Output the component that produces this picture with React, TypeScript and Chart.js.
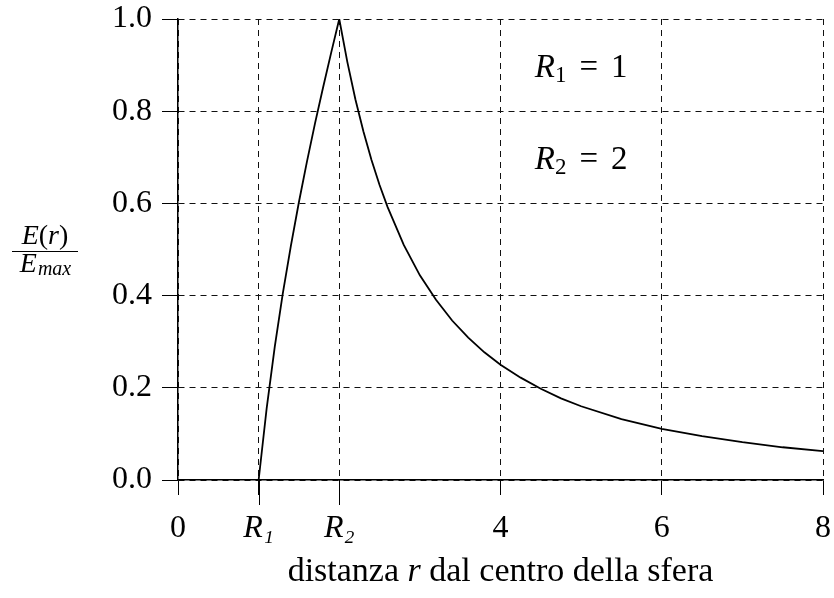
import React, { useEffect, useRef } from "react";
import { Chart, registerables } from "chart.js";

Chart.register(...registerables);

// distance r (x values) and normalized field E(r)/Emax (y values)
const rValues = [
  0, 1, 1.1, 1.2, 1.3, 1.4, 1.5, 1.6, 1.7, 1.8, 1.9, 2,
  2.1, 2.2, 2.3, 2.4, 2.5, 2.6, 2.8, 3, 3.2, 3.4, 3.6, 3.8, 4,
  4.25, 4.5, 4.75, 5, 5.5, 6, 6.5, 7, 7.5, 8,
];
const eValues = [
  0, 0, 0.156, 0.289, 0.405, 0.508, 0.603, 0.691, 0.774, 0.852, 0.927, 1.0,
  0.907, 0.826, 0.756, 0.694, 0.64, 0.592, 0.51, 0.444, 0.391, 0.346, 0.309, 0.277, 0.25,
  0.222, 0.198, 0.177, 0.16, 0.132, 0.111, 0.095, 0.082, 0.071, 0.0625,
];

const xTickValues = [0, 1, 2, 4, 6, 8];
const xTickLabels = ["0", "R₁", "R₂", "4", "6", "8"];
const longTickValues = [1, 2];
const yTickValues = [0, 0.2, 0.4, 0.6, 0.8, 1.0];

const xTitleParts = ["distanza ", "r", " dal centro della sfera"];
const yTitleNum = ["E", "(", "r", ")"];
const yTitleDen = ["E", "max"];

const noteX = [5, 5];
const noteY = [0.9, 0.7];
const noteSub = ["1", "2"];
const noteValue = ["1", "2"];

const FAMILY = "'Liberation Serif', 'DejaVu Serif', serif";

const textPlugin = {
  id: "texts",
  afterDraw(chart: any) {
    const ctx = chart.ctx as CanvasRenderingContext2D;
    const xs = chart.scales.x;
    const ys = chart.scales.y;
    ctx.save();
    ctx.fillStyle = "#000";
    ctx.textBaseline = "alphabetic";

    // longer tick marks at R1, R2
    ctx.strokeStyle = "#000";
    ctx.lineWidth = 1;
    longTickValues.forEach((v) => {
      const px = Math.round(xs.getPixelForValue(v)) + 0.5;
      ctx.beginPath();
      ctx.moveTo(px, xs.top);
      ctx.lineTo(px, xs.top + 25);
      ctx.stroke();
    });

    // annotations R_i = v
    for (let i = 0; i < noteX.length; i++) {
      const cx = xs.getPixelForValue(noteX[i]);
      const cy = ys.getPixelForValue(noteY[i]);
      const big = `italic 33px ${FAMILY}`;
      const small = `23px ${FAMILY}`;
      const norm = `33px ${FAMILY}`;
      ctx.font = big;
      const wR = ctx.measureText("R").width;
      ctx.font = small;
      const wS = ctx.measureText(noteSub[i]).width;
      ctx.font = norm;
      const wEq = ctx.measureText("=").width;
      const wV = ctx.measureText(noteValue[i]).width;
      const gap = 13;
      const total = wR + wS + gap + wEq + gap + wV;
      let x = cx - total / 2;
      const base = cy + 12;
      ctx.textAlign = "left";
      ctx.font = big;
      ctx.fillText("R", x, base);
      x += wR;
      ctx.font = small;
      ctx.fillText(noteSub[i], x, base + 5);
      x += wS + gap;
      ctx.font = norm;
      ctx.fillText("=", x, base);
      x += wEq + gap;
      ctx.fillText(noteValue[i], x, base);
    }

    // x title
    {
      const fonts = [`34px ${FAMILY}`, `italic 34px ${FAMILY}`, `34px ${FAMILY}`];
      const widths = xTitleParts.map((p, i) => {
        ctx.font = fonts[i];
        return ctx.measureText(p).width;
      });
      const total = widths.reduce((a, b) => a + b, 0);
      let x = (xs.left + xs.right) / 2 - total / 2;
      ctx.textAlign = "left";
      xTitleParts.forEach((p, i) => {
        ctx.font = fonts[i];
        ctx.fillText(p, x, 581);
        x += widths[i];
      });
    }

    // y title as a fraction
    {
      const cx = 45;
      const numFonts = [`italic 28px ${FAMILY}`, `28px ${FAMILY}`, `italic 28px ${FAMILY}`, `28px ${FAMILY}`];
      const nw = yTitleNum.map((p, i) => {
        ctx.font = numFonts[i];
        return ctx.measureText(p).width;
      });
      let x = cx - nw.reduce((a, b) => a + b, 0) / 2;
      yTitleNum.forEach((p, i) => {
        ctx.font = numFonts[i];
        ctx.fillText(p, x, 244);
        x += nw[i];
      });
      ctx.lineWidth = 1.2;
      ctx.beginPath();
      ctx.moveTo(12, 251.5);
      ctx.lineTo(78, 251.5);
      ctx.stroke();
      ctx.font = `italic 28px ${FAMILY}`;
      const wE = ctx.measureText(yTitleDen[0]).width;
      ctx.font = `italic 20px ${FAMILY}`;
      const wM = ctx.measureText(yTitleDen[1]).width;
      x = cx - (wE + wM) / 2;
      ctx.font = `italic 28px ${FAMILY}`;
      ctx.fillText(yTitleDen[0], x, 272);
      ctx.font = `italic 20px ${FAMILY}`;
      ctx.fillText(yTitleDen[1], x + wE + 1, 275);
    }
    ctx.restore();
  },
};

export default function App() {
  const ref = useRef<HTMLCanvasElement | null>(null);

  useEffect(() => {
    if (!ref.current) return;
    const points = rValues.map((r, i) => ({ x: r, y: eValues[i] }));
    const chart = new Chart(ref.current, {
      type: "scatter",
      data: {
        datasets: [
          {
            data: points,
            showLine: true,
            borderColor: "#000",
            borderWidth: 1.8,
            pointRadius: 0,
            tension: 0,
          },
        ],
      },
      options: {
        animation: false,
        responsive: false,
        events: [],
        layout: { padding: { left: 0, right: 11, top: 19, bottom: 0 } },
        plugins: { legend: { display: false }, tooltip: { enabled: false } },
        scales: {
          x: {
            type: "linear",
            min: 0,
            max: 8,
            afterFit(scale: any) {
              scale.height = 118;
              scale.paddingLeft = 0;
              scale.paddingRight = 0;
            },
            afterBuildTicks(scale: any) {
              scale.ticks = xTickValues.map((v) => ({ value: v }));
            },
            grid: {
              color: "#111",
              lineWidth: 1,
              tickLength: 15,
              tickColor: "#000",
              tickBorderDash: [],
            },
            border: { display: true, color: "#000", width: 1.5, dash: [6, 5] },
            ticks: {
              padding: 14,
              color: "#000",
              maxRotation: 0,
              autoSkip: false,
              font: (c: any) => {
                const v = c.tick ? c.tick.value : 0;
                const italic = v === 1 || v === 2;
                return { family: FAMILY, size: 32, style: italic ? "italic" : "normal" };
              },
              callback: (v: any) => {
                const idx = xTickValues.indexOf(Number(v));
                return idx >= 0 ? xTickLabels[idx] : "";
              },
            },
          },
          y: {
            type: "linear",
            min: 0,
            max: 1,
            afterFit(scale: any) {
              scale.width = 178;
              scale.paddingTop = 0;
              scale.paddingBottom = 0;
            },
            afterBuildTicks(scale: any) {
              scale.ticks = yTickValues.map((v) => ({ value: v }));
            },
            grid: {
              color: "#111",
              lineWidth: 1,
              tickLength: 16,
              tickColor: "#000",
              tickBorderDash: [],
            },
            border: { display: true, color: "#000", width: 1.5, dash: [6, 5] },
            ticks: {
              padding: 10,
              color: "#000",
              font: { family: FAMILY, size: 32 },
              callback: (v: any) => Number(v).toFixed(1),
            },
          },
        },
      },
      plugins: [textPlugin],
    } as any);
    return () => chart.destroy();
  }, []);

  return (
    <div style={{ position: "absolute", left: 0, top: 0, width: 834, height: 598, background: "#fff" }}>
      <canvas ref={ref} width={834} height={598} style={{ display: "block" }} />
    </div>
  );
}
